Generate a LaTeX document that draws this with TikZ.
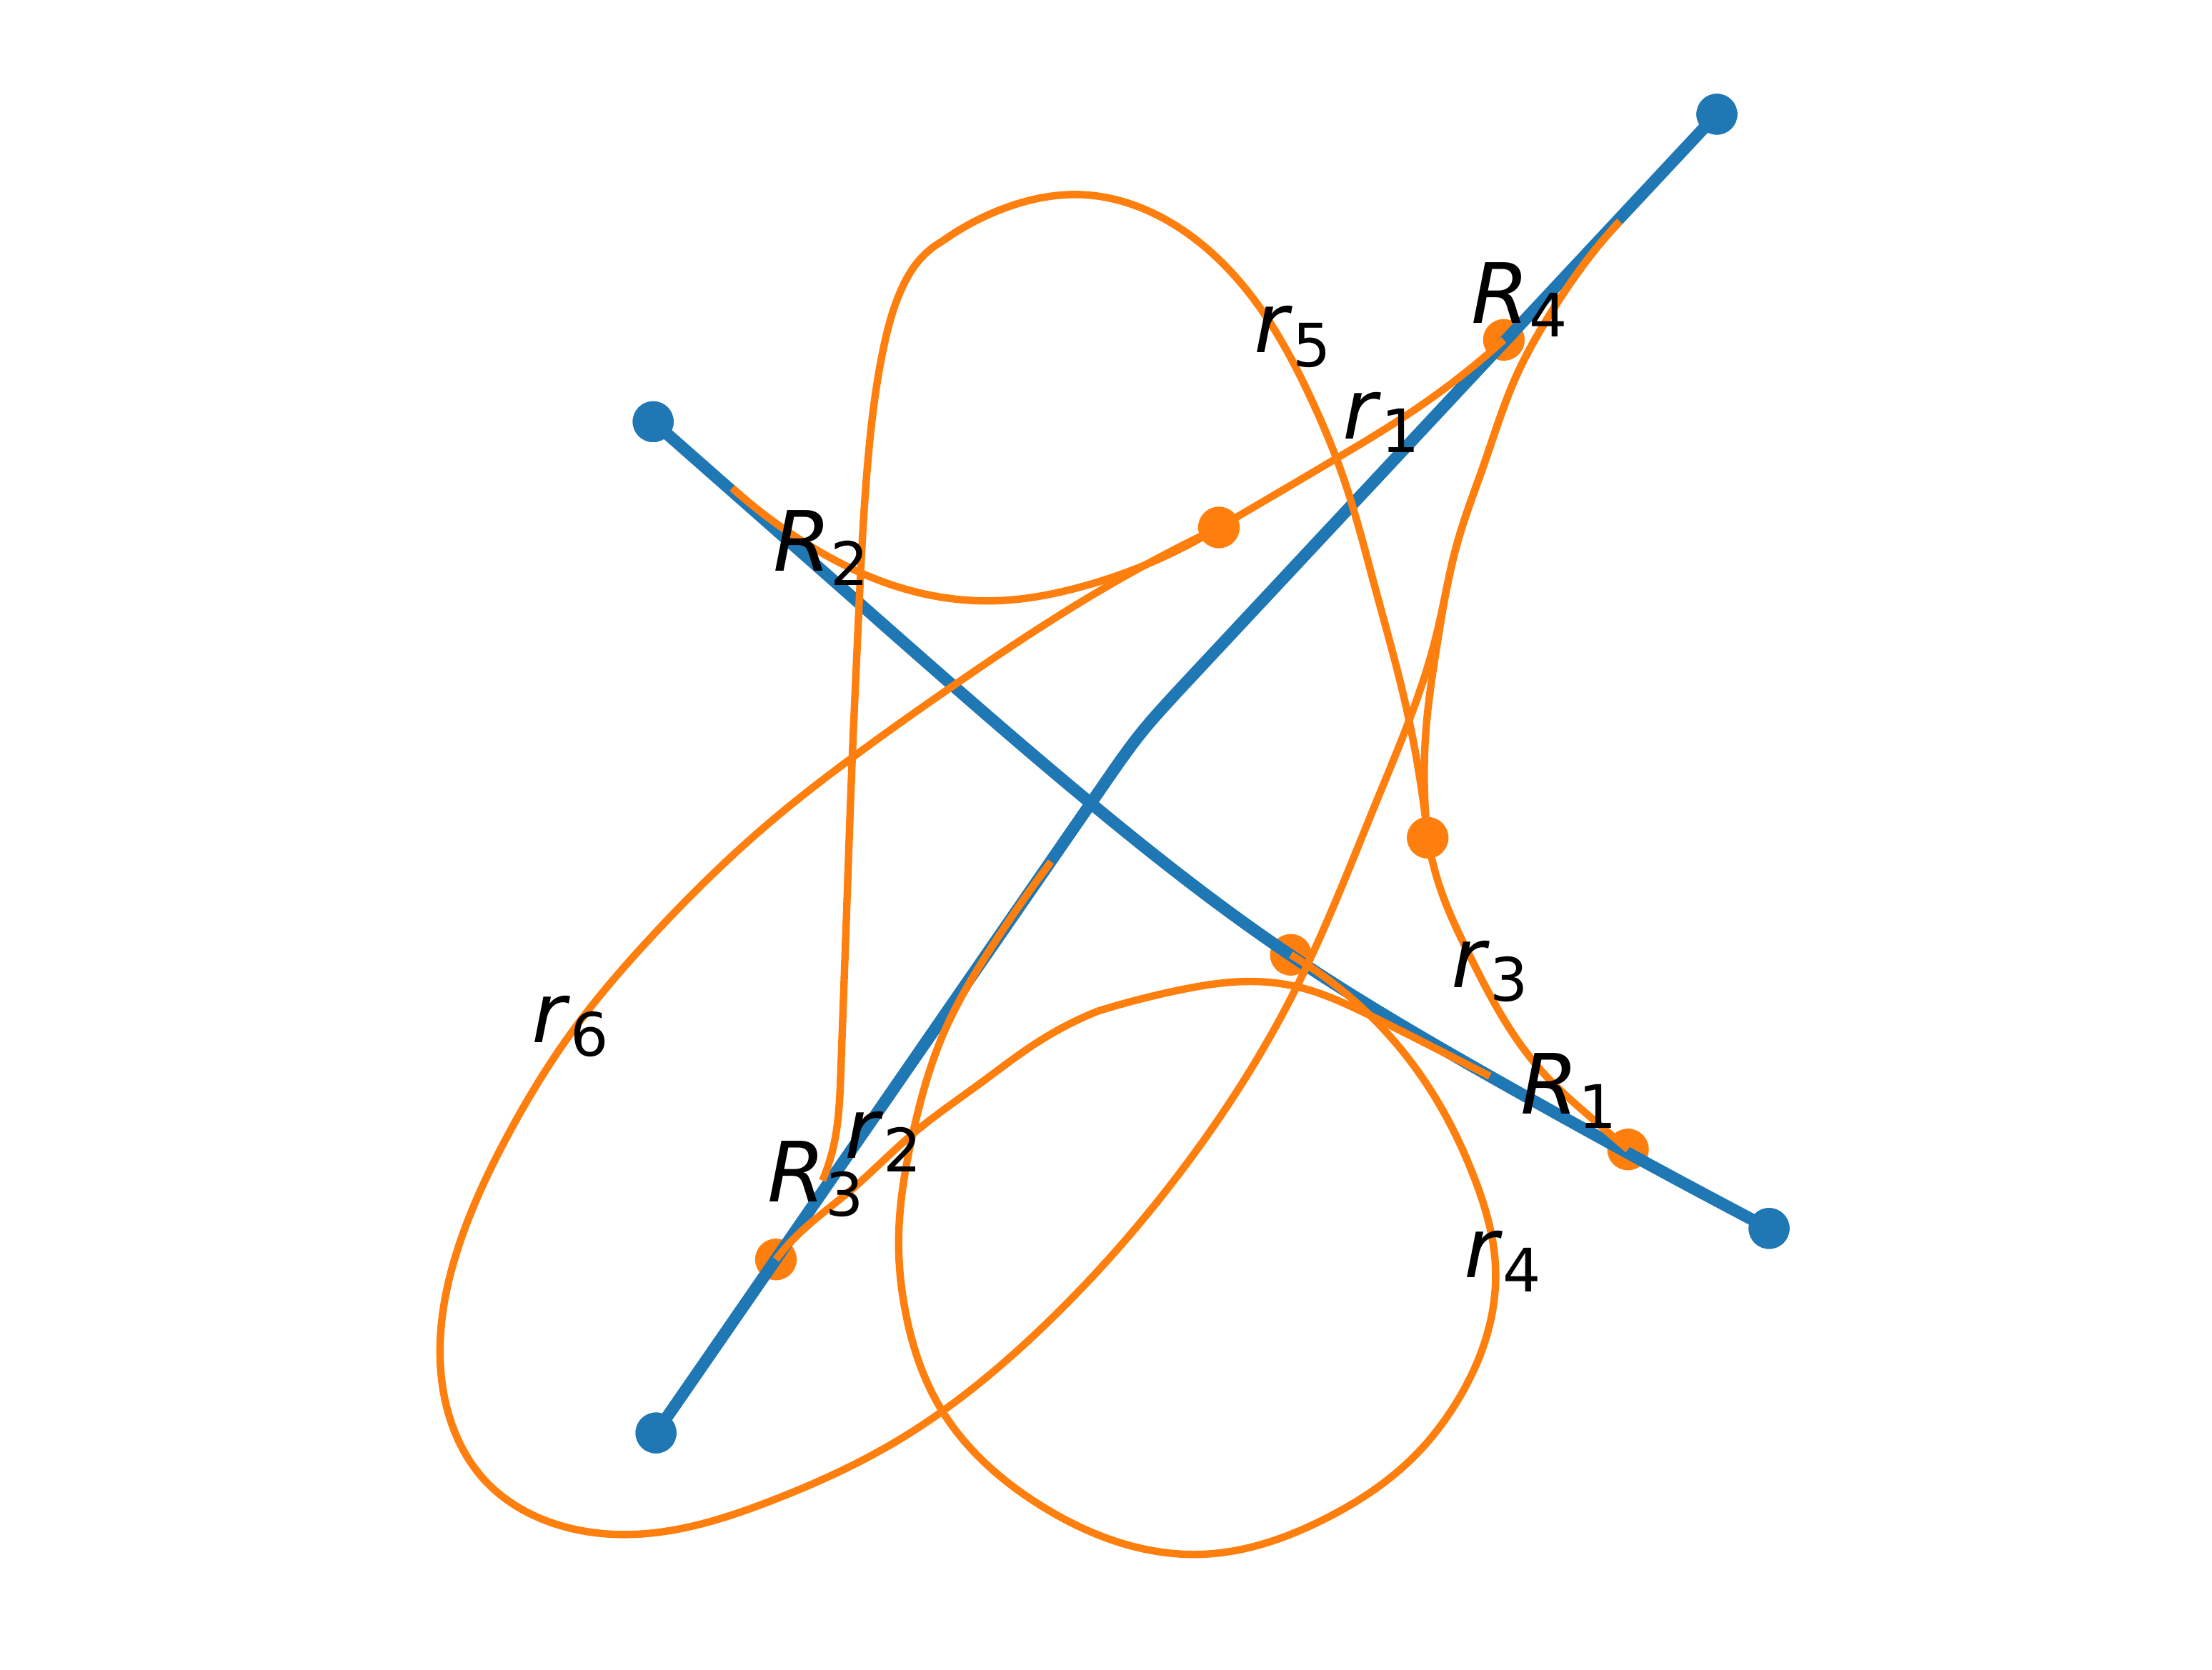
\documentclass[tikz,border=0pt]{standalone}
\usepackage{fontspec}
\setmainfont{DejaVu Sans}
\usetikzlibrary{hobby}
\definecolor{mblue}{HTML}{1F77B4}
\definecolor{morange}{HTML}{FF7F0E}
\newcommand\lbl[2]{\textit{#1}\raisebox{-2pt}{\fontsize{8.5pt}{8.5pt}\selectfont #2}}
\begin{document}
\begin{tikzpicture}[x=0.2pt,y=-0.2pt,
  odot/.style={circle,fill=morange,inner sep=0pt,minimum size=5.9pt},
  bdot/.style={circle,fill=mblue,inner sep=0pt,minimum size=5.8pt},
  bline/.style={draw=mblue,line width=1.7pt,line join=round},
  oline/.style={draw=morange,line width=1.05pt,line join=round,use Hobby shortcut},
  lab/.style={anchor=base west,inner sep=0pt,font=\fontsize{11.8pt}{12pt}\selectfont}]
\path[use as bounding box] (0,0) rectangle (1568,1183.6);
% orange dots (under the blue lines)
\node[odot] (oR4) at (1066,241) {};
\node[odot] (om) at (864,374) {};
\node[odot] (or3) at (1012,594) {};
\node[odot] (ox) at (915,677) {};
\node[odot] (oR1) at (1154,815) {};
\node[odot] (oR3) at (550,893) {};
% end points on blue lines and kinks
\coordinate (eR2) at (519,346);
\coordinate (eTop) at (1148,157);
\coordinate (eR5) at (583,837);
\coordinate (eR2b) at (1056,763);
\coordinate (eR4) at (745,611);
\coordinate (k5) at (668,171);
\coordinate (k2) at (778,717);
% blue end dots
\node[bdot] (bA) at (463,299) {};
\node[bdot] (bB) at (1254,871) {};
\node[bdot] (bC) at (1217,81) {};
\node[bdot] (bD) at (465,1016) {};
% blue curves
\draw[bline,use Hobby shortcut] (bA.center) .. (606,425) .. (775,571) .. (910,674) .. (1056,763) .. (bB.center);
\draw[bline] (bC.center) -- (850,474) .. controls (808,519) .. (775,567) -- (bD.center);
\node[bdot] at (bA) {};
\node[bdot] at (bB) {};
\node[bdot] at (bC) {};
\node[bdot] at (bD) {};
% orange curves
% R2 arc
\draw[oline] (eR2) .. (574,387) .. (630,414) .. (705,426) .. (763,417) .. (om.center);
% r1
\draw[oline] (om.center) .. (905,350) .. (944,327) .. (990,299) .. (1030,271) .. (oR4.center);
% r6
\draw[oline] (om.center) .. (781,418) .. (676,486) .. (603,538) .. (547,582) .. (462,664) .. (403,735) .. (361,803) .. (327,878) .. (312,952) .. (319,1006) .. (344,1050) .. (395,1081) .. (446,1088) .. (547,1064) .. (637,1021) .. (737,943) .. (836,832) .. (919,700) .. (975,570) .. (1018,451) .. (1033,385) .. (1052,329) .. (1076,264) .. (1098,224) .. (1123,187) .. (eTop);
% branch from the top down to the r3 dot
\draw[oline] (eTop) .. (1123,187) .. (1098,224) .. (1076,264) .. (1052,329) .. (1033,385) .. (1019,455) .. (1011,515) .. (or3.center);
% r5 tall loop
\draw[oline] (eR5) .. (591,812) .. (596,760) .. (600,650) .. (604,540) .. (608,450) .. (615,329) .. (626,248) .. (639,205) .. (652,184) .. (k5);
\draw[oline] (k5) .. (711,148) .. (766,138) .. (815,150) .. (854,175) .. (893,218) .. (929,282) .. (952,338) .. (974,414) .. (996,498) .. (or3.center);
% r3
\draw[oline] (or3.center) .. (1022,633) .. (1042,678) .. (1068,726) .. (1096,763) .. (1125,790) .. (oR1.center);
% r2
\draw[oline] (oR3.center) .. (565,876) .. (603,844) .. (647,804) .. (695,768) .. (737,738) .. (k2);
\draw[oline] (k2) .. (836,702) .. (880,696) .. (921,700) .. (967,718) .. (1011,740) .. (eR2b);
% r4 loop
\draw[oline] (ox.center) .. (967,716) .. (1016,776) .. (1045,835) .. (1060,897) .. (1055,943) .. (1035,990) .. (999,1036) .. (939,1077) .. (853,1102) .. (737,1067) .. (667,999) .. (642,931) .. (637,881) .. (647,804) .. (670,730) .. (700,676) .. (eR4);
% labels
\node[lab] (tR4) at (1042,229) {\lbl{R}{4}};
\node[lab] (tR2) at (547,405) {\lbl{R}{2}};
\node[lab] (tr5) at (888,250) {\lbl{r}{5}};
\node[lab] (tr1) at (951,311) {\lbl{r}{1}};
\node[lab] (tr3) at (1028,700) {\lbl{r}{3}};
\node[lab] (tR1) at (1077,790) {\lbl{R}{1}};
\node[lab] (tr6) at (376,739) {\lbl{r}{6}};
\node[lab] (tR3) at (543,852) {\lbl{R}{3}};
\node[lab] (tr2) at (598,821) {\lbl{r}{2}};
\node[lab] (tr4) at (1037,906) {\lbl{r}{4}};
\end{tikzpicture}
\end{document}
